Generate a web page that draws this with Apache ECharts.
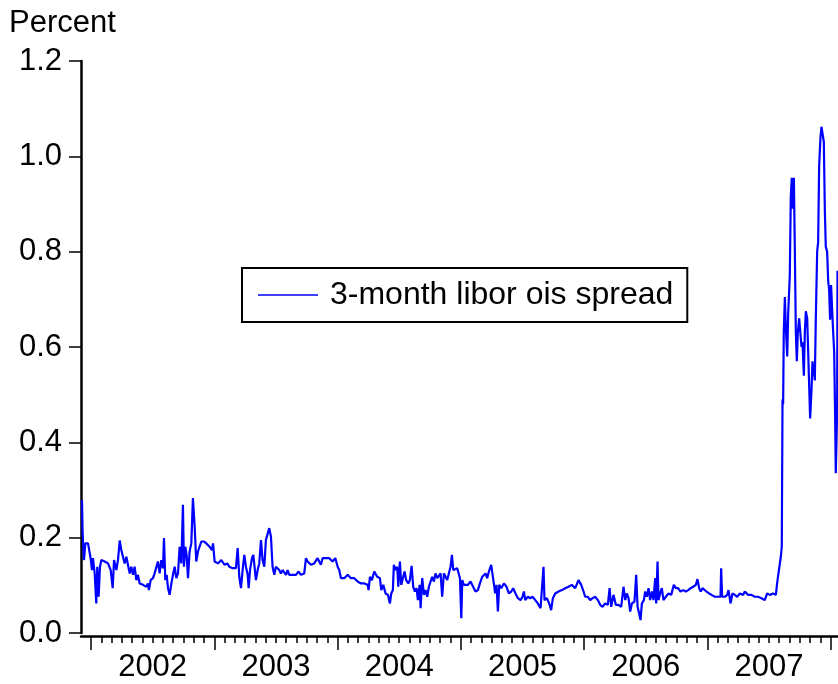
<!DOCTYPE html>
<html lang="en">
<head>
    <meta charset="UTF-8">
    <script src="https://cdn.jsdelivr.net/npm/echarts@6/dist/echarts.min.js"></script>
    <title>3-month libor ois spread</title>
    <style>
        html, body { margin: 0; padding: 0; background: #fff; }
        #main { width: 838px; height: 684px; }
    </style>
</head>
<body>
<div id="main"></div>
<script>
    // [decimal year, percent], one array per year
    var spread2001 = [[2001.927, 0.279], [2001.932, 0.21], [2001.943, 0.153], [2001.954, 0.188], [2001.976, 0.188], [2001.989, 0.185], [2001.997, 0.157]];
    var spread2002 = [[2002.008, 0.132], [2002.016, 0.157], [2002.030, 0.125], [2002.043, 0.062], [2002.051, 0.139], [2002.062, 0.076], [2002.073, 0.139], [2002.084, 0.153], [2002.097, 0.157], [2002.111, 0.150], [2002.138, 0.146], [2002.160, 0.132], [2002.176, 0.094], [2002.187, 0.153], [2002.206, 0.132], [2002.219, 0.153], [2002.233, 0.194], [2002.246, 0.174], [2002.260, 0.178], [2002.273, 0.146], [2002.287, 0.160], [2002.300, 0.164], [2002.314, 0.125], [2002.327, 0.139], [2002.341, 0.122], [2002.354, 0.139], [2002.368, 0.111], [2002.381, 0.122], [2002.395, 0.104], [2002.408, 0.108], [2002.422, 0.101], [2002.435, 0.104], [2002.449, 0.097], [2002.462, 0.104], [2002.470, 0.090], [2002.484, 0.111], [2002.503, 0.115], [2002.516, 0.125], [2002.530, 0.122], [2002.543, 0.150], [2002.557, 0.125], [2002.570, 0.153], [2002.584, 0.136], [2002.592, 0.199], [2002.603, 0.111], [2002.614, 0.122], [2002.625, 0.094], [2002.638, 0.080], [2002.652, 0.104], [2002.665, 0.122], [2002.679, 0.139], [2002.692, 0.115], [2002.706, 0.125], [2002.719, 0.181], [2002.733, 0.146], [2002.746, 0.269], [2002.754, 0.139], [2002.765, 0.181], [2002.776, 0.164], [2002.787, 0.115], [2002.800, 0.171], [2002.814, 0.188], [2002.827, 0.283], [2002.841, 0.223], [2002.854, 0.150], [2002.868, 0.171], [2002.881, 0.181], [2002.895, 0.192], [2002.917, 0.192], [2002.935, 0.188], [2002.962, 0.181], [2002.981, 0.174], [2002.990, 0.188]];
    var spread2003 = [[2003.003, 0.150], [2003.030, 0.146], [2003.057, 0.153], [2003.084, 0.143], [2003.106, 0.146], [2003.122, 0.139], [2003.149, 0.136], [2003.176, 0.136], [2003.190, 0.178], [2003.203, 0.118], [2003.217, 0.094], [2003.230, 0.132], [2003.244, 0.164], [2003.257, 0.139], [2003.271, 0.122], [2003.279, 0.094], [2003.290, 0.132], [2003.306, 0.157], [2003.317, 0.164], [2003.327, 0.167], [2003.338, 0.111], [2003.352, 0.132], [2003.365, 0.146], [2003.379, 0.195], [2003.392, 0.153], [2003.406, 0.139], [2003.419, 0.195], [2003.433, 0.199], [2003.446, 0.220], [2003.460, 0.202], [2003.473, 0.139], [2003.487, 0.122], [2003.500, 0.139], [2003.514, 0.136], [2003.527, 0.132], [2003.541, 0.125], [2003.555, 0.132], [2003.568, 0.129], [2003.582, 0.122], [2003.595, 0.132], [2003.609, 0.122], [2003.636, 0.122], [2003.663, 0.122], [2003.684, 0.129], [2003.703, 0.122], [2003.730, 0.125], [2003.744, 0.157], [2003.757, 0.150], [2003.784, 0.143], [2003.811, 0.146], [2003.838, 0.157], [2003.852, 0.160], [2003.865, 0.143], [2003.879, 0.157], [2003.906, 0.157], [2003.933, 0.157], [2003.960, 0.150], [2003.982, 0.157]];
    var spread2004 = [[2004.001, 0.139], [2004.014, 0.132], [2004.028, 0.115], [2004.055, 0.115], [2004.082, 0.122], [2004.109, 0.115], [2004.136, 0.115], [2004.163, 0.108], [2004.190, 0.104], [2004.217, 0.104], [2004.244, 0.101], [2004.252, 0.090], [2004.263, 0.118], [2004.279, 0.111], [2004.298, 0.129], [2004.311, 0.132], [2004.322, 0.118], [2004.344, 0.115], [2004.355, 0.090], [2004.371, 0.101], [2004.390, 0.083], [2004.409, 0.080], [2004.425, 0.062], [2004.436, 0.083], [2004.449, 0.090], [2004.457, 0.143], [2004.471, 0.132], [2004.484, 0.139], [2004.493, 0.097], [2004.506, 0.150], [2004.517, 0.101], [2004.533, 0.104], [2004.544, 0.129], [2004.557, 0.111], [2004.574, 0.104], [2004.587, 0.111], [2004.601, 0.141], [2004.614, 0.097], [2004.628, 0.087], [2004.641, 0.094], [2004.652, 0.069], [2004.666, 0.101], [2004.674, 0.052], [2004.687, 0.115], [2004.701, 0.080], [2004.714, 0.090], [2004.728, 0.076], [2004.741, 0.097], [2004.755, 0.108], [2004.768, 0.118], [2004.782, 0.108], [2004.795, 0.125], [2004.809, 0.115], [2004.822, 0.118], [2004.836, 0.125], [2004.849, 0.076], [2004.863, 0.125], [2004.876, 0.122], [2004.890, 0.111], [2004.903, 0.125], [2004.917, 0.139], [2004.928, 0.164], [2004.939, 0.132], [2004.952, 0.136], [2004.971, 0.136], [2004.985, 0.132], [2004.993, 0.115]];
    var spread2005 = [[2005.004, 0.031], [2005.012, 0.111], [2005.025, 0.101], [2005.039, 0.104], [2005.058, 0.101], [2005.079, 0.108], [2005.093, 0.111], [2005.106, 0.094], [2005.120, 0.087], [2005.139, 0.090], [2005.155, 0.104], [2005.174, 0.118], [2005.187, 0.115], [2005.201, 0.125], [2005.214, 0.115], [2005.228, 0.129], [2005.247, 0.143], [2005.258, 0.122], [2005.268, 0.104], [2005.279, 0.083], [2005.290, 0.101], [2005.301, 0.045], [2005.312, 0.101], [2005.328, 0.094], [2005.350, 0.104], [2005.371, 0.097], [2005.390, 0.083], [2005.409, 0.087], [2005.425, 0.094], [2005.444, 0.083], [2005.463, 0.073], [2005.485, 0.069], [2005.501, 0.076], [2005.512, 0.087], [2005.523, 0.069], [2005.544, 0.076], [2005.563, 0.073], [2005.582, 0.076], [2005.604, 0.069], [2005.625, 0.062], [2005.647, 0.052], [2005.658, 0.055], [2005.671, 0.139], [2005.679, 0.069], [2005.698, 0.073], [2005.717, 0.062], [2005.733, 0.048], [2005.747, 0.073], [2005.766, 0.083], [2005.793, 0.087], [2005.820, 0.090], [2005.847, 0.094], [2005.874, 0.097], [2005.901, 0.101], [2005.928, 0.094], [2005.955, 0.111], [2005.977, 0.101], [2005.996, 0.087]];
    var spread2006 = [[2006.009, 0.076], [2006.031, 0.076], [2006.050, 0.069], [2006.069, 0.073], [2006.090, 0.076], [2006.112, 0.069], [2006.131, 0.059], [2006.150, 0.055], [2006.171, 0.062], [2006.193, 0.059], [2006.207, 0.094], [2006.220, 0.055], [2006.239, 0.080], [2006.258, 0.059], [2006.279, 0.059], [2006.301, 0.055], [2006.320, 0.097], [2006.334, 0.069], [2006.347, 0.083], [2006.361, 0.073], [2006.374, 0.045], [2006.388, 0.062], [2006.409, 0.066], [2006.423, 0.122], [2006.434, 0.055], [2006.447, 0.041], [2006.458, 0.027], [2006.469, 0.062], [2006.485, 0.069], [2006.496, 0.087], [2006.509, 0.076], [2006.523, 0.094], [2006.536, 0.069], [2006.550, 0.087], [2006.563, 0.069], [2006.577, 0.115], [2006.585, 0.062], [2006.596, 0.150], [2006.604, 0.069], [2006.617, 0.083], [2006.631, 0.094], [2006.644, 0.069], [2006.663, 0.076], [2006.685, 0.083], [2006.707, 0.080], [2006.717, 0.090], [2006.728, 0.101], [2006.745, 0.094], [2006.763, 0.094], [2006.782, 0.087], [2006.804, 0.090], [2006.826, 0.087], [2006.845, 0.090], [2006.864, 0.094], [2006.885, 0.097], [2006.907, 0.101], [2006.920, 0.113], [2006.934, 0.094], [2006.947, 0.087], [2006.961, 0.094], [2006.974, 0.097], [2006.993, 0.087]];
    var spread2007 = [[2007.015, 0.083], [2007.034, 0.080], [2007.061, 0.076], [2007.088, 0.076], [2007.107, 0.076], [2007.112, 0.136], [2007.120, 0.076], [2007.142, 0.076], [2007.161, 0.080], [2007.172, 0.090], [2007.188, 0.062], [2007.204, 0.083], [2007.223, 0.080], [2007.242, 0.076], [2007.264, 0.083], [2007.291, 0.080], [2007.304, 0.087], [2007.331, 0.080], [2007.358, 0.080], [2007.385, 0.076], [2007.412, 0.076], [2007.439, 0.073], [2007.466, 0.069], [2007.485, 0.083], [2007.507, 0.080], [2007.534, 0.083], [2007.556, 0.080], [2007.566, 0.104], [2007.577, 0.125], [2007.588, 0.125], [2007.596, 0.160], [2007.604, 0.181], [2007.610, 0.49], [2007.615, 0.48], [2007.620, 0.63], [2007.629, 0.705], [2007.637, 0.64], [2007.648, 0.58], [2007.656, 0.67], [2007.669, 0.75], [2007.677, 0.915], [2007.685, 0.955], [2007.693, 0.89], [2007.702, 0.955], [2007.710, 0.80], [2007.718, 0.63], [2007.726, 0.57], [2007.734, 0.63], [2007.745, 0.66], [2007.756, 0.66], [2007.764, 0.60], [2007.772, 0.61], [2007.783, 0.54], [2007.791, 0.63], [2007.799, 0.675], [2007.810, 0.66], [2007.818, 0.59], [2007.826, 0.52], [2007.834, 0.45], [2007.845, 0.51], [2007.853, 0.57], [2007.864, 0.55], [2007.872, 0.53], [2007.880, 0.66], [2007.891, 0.80], [2007.899, 0.82], [2007.907, 0.98], [2007.918, 1.04], [2007.926, 1.062], [2007.934, 1.06], [2007.945, 1.03], [2007.953, 0.89], [2007.961, 0.81], [2007.972, 0.80], [2007.980, 0.74], [2007.988, 0.72], [2007.996, 0.657]];
    var spread2008 = [[2008.004, 0.73], [2008.012, 0.68], [2008.021, 0.63], [2008.029, 0.59], [2008.037, 0.45], [2008.042, 0.335], [2008.048, 0.40], [2008.053, 0.47], [2008.056, 0.76]];

    var seriesName = '3-month libor ois spread';
    var yearLabels = [2002, 2003, 2004, 2005, 2006, 2007];
    var xMin = 2001.919;
    var xMax = 2008.06;

    var spread = [].concat(spread2001, spread2002, spread2003, spread2004,
        spread2005, spread2006, spread2007, spread2008);

    // tick places: long ticks at year starts, short ones at month starts
    var yearTicks = [];
    var monthTicks = [];
    for (var y = 2002; y <= 2008; y++) {
        yearTicks.push(y);
        for (var m = 1; m < 12; m++) {
            if (y + m / 12 < xMax) monthTicks.push(y + m / 12);
        }
    }
    // year label sits in the middle of its year
    var labelPos = yearLabels.map(function (y) { return y + 0.5; });

    var font = 'Liberation Sans';
    var myChart = echarts.init(document.getElementById('main'));
    var option = {
        animation: false,
        title: {
            text: 'Percent',
            left: 9,
            top: 8,
            padding: 0,
            textStyle: { fontFamily: font, fontSize: 31, fontWeight: 'normal', color: '#000' }
        },
        legend: {
            data: [{ name: seriesName, icon: 'rect' }],
            left: 242,
            top: 268,
            padding: [11, 14, 11, 16],
            itemWidth: 60,
            itemHeight: 1.5,
            borderColor: '#000',
            borderWidth: 2,
            textStyle: { fontFamily: font, fontSize: 32, color: '#000', padding: [0, 0, 0, 7] }
        },
        grid: { left: 81, right: 0, top: 61, bottom: 51 },
        xAxis: [{
            type: 'value',
            min: xMin,
            max: xMax,
            position: 'bottom',
            offset: 3,
            axisLine: { show: true, onZero: false, lineStyle: { color: '#000', width: 2.5 } },
            axisTick: { show: true, customValues: monthTicks, length: 7, lineStyle: { color: '#000', width: 1.5 } },
            axisLabel: {
                customValues: labelPos,
                formatter: function (v) { return String(Math.floor(v)); },
                margin: 16,
                fontFamily: font, fontSize: 31, color: '#000'
            },
            splitLine: { show: false }
        }, {
            type: 'value',
            min: xMin,
            max: xMax,
            position: 'bottom',
            offset: 3,
            axisLine: { show: false, onZero: false },
            axisTick: { show: true, customValues: yearTicks, length: 14, lineStyle: { color: '#000', width: 1.5 } },
            axisLabel: { show: false },
            splitLine: { show: false }
        }],
        yAxis: {
            type: 'value',
            min: 0,
            max: 1.2,
            interval: 0.2,
            axisLine: { show: true, lineStyle: { color: '#000', width: 2.5 } },
            axisTick: { show: true, length: 12, lineStyle: { color: '#000', width: 1.5 } },
            axisLabel: {
                formatter: function (v) { return v.toFixed(1); },
                margin: 19,
                fontFamily: font, fontSize: 31, color: '#000'
            },
            splitLine: { show: false }
        },
        series: [{
            name: seriesName,
            type: 'line',
            data: spread,
            showSymbol: false,
            color: '#0000ff',
            lineStyle: { width: 2.2, color: '#0000ff' }
        }]
    };
    myChart.setOption(option);
</script>
</body>
</html>
